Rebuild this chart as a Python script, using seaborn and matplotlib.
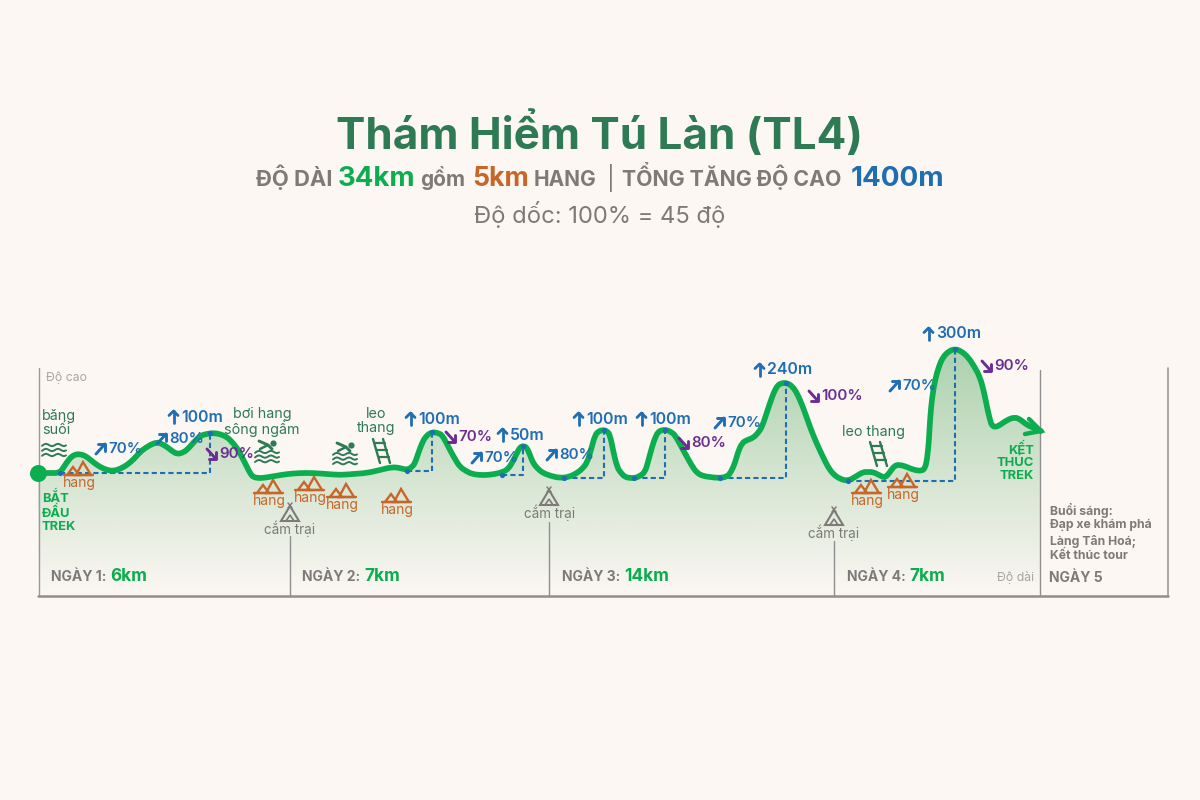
import numpy as np
import pandas as pd
import matplotlib
matplotlib.use('Agg')
import matplotlib.pyplot as plt
import seaborn as sns
from matplotlib.patches import Polygon, PathPatch
from matplotlib.path import Path

# route (picture px, y grows downward)
route_x = [38, 50, 60, 65, 70, 74, 78, 83, 87, 93, 100, 107, 113, 120, 127, 134, 140, 148, 157, 162, 167, 172, 177, 182, 187,
           193, 200, 206, 213, 220, 227, 232, 237, 242, 247, 250, 253, 258, 263, 275, 287, 300, 313, 327, 340, 353, 367, 380,
           392, 400, 407, 412, 415, 418, 422, 426, 432, 438, 442, 446, 450, 455, 460, 466, 472, 480, 487, 495, 503, 508, 512,
           516, 520, 524, 527, 530, 533, 538, 543, 551, 560, 569, 577, 582, 587, 591, 595, 599, 603, 607, 610, 613, 617, 621,
           625, 630, 635, 640, 645, 648, 652, 655, 658, 662, 667, 671, 675, 681, 687, 692, 697, 703, 710, 718, 727, 731, 735,
           738, 742, 747, 753, 758, 762, 767, 772, 775, 778, 782, 787, 792, 797, 803, 810, 816, 823, 828, 833, 840, 848, 855,
           863, 868, 873, 879, 885, 890, 895, 901, 907, 914, 922, 925, 927, 929, 930, 932, 935, 939, 943, 949, 955, 961, 968,
           974, 980, 984, 987, 990, 992, 996, 1000, 1007, 1015, 1021, 1027, 1034, 1041]
route_y = [473, 473, 473, 465, 458, 455, 454, 455, 457, 462, 467, 470, 471, 469, 465, 459, 452, 446, 442, 444, 447, 451, 454,
           453, 450, 443, 436, 434, 433, 434, 437, 442, 448, 457, 467, 473, 477, 478, 478, 476, 474, 473, 473, 474, 475, 474,
           473, 470, 467, 468, 470, 467, 463, 454, 443, 436, 432, 433, 435, 442, 450, 459, 467, 471, 474, 475, 475, 474, 472,
           469, 463, 455, 447, 446, 448, 455, 463, 469, 473, 476, 478, 477, 473, 469, 463, 450, 435, 431, 430, 431, 435, 450,
           467, 473, 477, 478, 478, 476, 472, 462, 447, 438, 432, 430, 430, 432, 435, 446, 457, 466, 473, 476, 477, 478, 477,
           472, 463, 452, 443, 440, 438, 433, 427, 412, 397, 390, 385, 383, 383, 386, 393, 407, 427, 442, 457, 467, 474, 479,
           481, 477, 472, 472, 472, 475, 478, 472, 465, 465, 467, 470, 471, 468, 460, 440, 420, 398, 380, 366, 357, 351, 349,
           351, 357, 366, 377, 392, 407, 420, 426, 427, 425, 420, 417, 420, 425, 428, 431]

# dashed climb guides: start of climb, summit
climb_start_x = [60, 407, 502, 564, 634, 720, 848]
climb_base_y = [473, 471, 475, 478, 478, 478, 481]
climb_top_x = [210, 432, 523, 604, 665, 786, 955]
climb_top_y = [433, 432, 446, 430, 430, 383, 349]

# climb labels
climb_labels = ['100m', '100m', '50m', '100m', '100m', '240m', '300m']
climb_label_x = [168, 405, 497, 573, 636, 754, 923]
climb_label_y = [417, 419, 435, 419, 419, 370, 334]
# slope labels
up_labels = ['70%', '80%', '70%', '80%', '70%', '70%']
up_x = [95, 156, 471, 546, 714, 889]
up_y = [449, 439, 458, 455, 423, 386]
down_labels = ['90%', '70%', '80%', '100%', '90%']
down_x = [206, 445, 678, 808, 981]
down_y = [454, 437, 443, 396, 366]

# features along the route
cave_x = [79, 269, 310, 342, 397, 867, 903]
cave_y = [475, 493, 490, 497, 502, 493, 487]
camp_x = [290, 549, 834]
camp_y = [521, 505, 525]
day_lines = [290, 549, 834, 1040]
day_lines_top = [536, 522, 541, 370]
day_names = ['NGÀY 1:', 'NGÀY 2:', 'NGÀY 3:', 'NGÀY 4:']
day_km = ['6km', '7km', '14km', '7km']
day_label_x = [51, 302, 562, 847]

GREEN = '#0bad4e'
DARK_GREEN = '#2e7a55'
BLUE = '#1f6db3'
PURPLE = '#6b2d92'
ORANGE = '#c8662a'
GRAY = '#7d7a78'
LIGHT_GRAY = '#a8a5a2'
BG = '#fcf7f3'

sns.set_theme(style='white')
plt.rcParams['font.family'] = ['Inter', 'Noto Sans', 'DejaVu Sans']

fig = plt.figure(figsize=(12, 8), dpi=100, facecolor=BG)
ax = fig.add_axes([0, 0, 1, 1])
ax.set_xlim(0, 1200)
ax.set_ylim(800, 0)
ax.axis('off')


def draw_cave(x, y):
    ax.plot([x - 15, x + 14], [y, y], color=ORANGE, lw=1.7, zorder=4)
    ax.add_patch(Polygon([[x - 12, y], [x - 6, y - 8], [x, y]], fill=False, ec=ORANGE, lw=1.7, zorder=4))
    ax.add_patch(Polygon([[x - 3, y], [x + 4, y - 13], [x + 12, y]], fill=False, ec=ORANGE, lw=1.7, zorder=4))
    ax.text(x, y + 8, 'hang', color=ORANGE, fontsize=10, ha='center', va='center', zorder=5)


def draw_camp(x, y):
    ax.add_patch(Polygon([[x - 9, y], [x, y - 15], [x + 9, y]], fill=False, ec=GRAY, lw=1.5, zorder=4))
    ax.add_patch(Polygon([[x - 4, y], [x, y - 6], [x + 4, y]], fill=False, ec=GRAY, lw=1.2, zorder=4))
    ax.plot([x - 2, x + 2], [y - 18, y - 13], color=GRAY, lw=1.1)
    ax.plot([x + 2, x - 2], [y - 18, y - 13], color=GRAY, lw=1.1)
    ax.text(x, y + 8, 'cắm trại', color=GRAY, fontsize=9.7, ha='center', va='center', zorder=5)


wave_dx = np.array([-12, -10, -8, -6, -4, -2, 0, 2, 4, 6, 8, 10, 12])
wave_dy = np.array([0.8, -0.6, -1.2, -0.6, 0.6, 1.2, 0.6, -0.6, -1.2, -0.6, 0.6, 1.2, 0.4])


def draw_waves(x, y, rows=3, gap=4.5):
    for i in range(rows):
        ax.plot(x + wave_dx, y + i * gap + wave_dy, color=DARK_GREEN, lw=1.4, zorder=4)


def draw_swimmer(x, y):
    draw_waves(x, y + 1, rows=3, gap=4.6)
    ax.plot([x - 8, x + 1, x + 5], [y - 10, y - 6, y - 2], color=DARK_GREEN, lw=2.1, zorder=4)
    ax.plot([x + 1, x - 7], [y - 6, y - 2], color=DARK_GREEN, lw=1.8, zorder=4)
    ax.scatter([x + 5.5], [y - 8.5], s=20, color=DARK_GREEN, zorder=4, linewidths=0)


def draw_ladder(x, y):
    ax.plot([x - 8, x - 1], [y - 12, y + 12], color=DARK_GREEN, lw=1.7, zorder=4)
    ax.plot([x + 2, x + 9], [y - 12, y + 12], color=DARK_GREEN, lw=1.7, zorder=4)
    for k in [-8, -1, 6]:
        ax.plot([x - 7 + (k + 12) * 0.29, x + 3 + (k + 12) * 0.29], [y + k, y + k], color=DARK_GREEN, lw=1.6, zorder=4)


def slope_arrow(kind, x, y, color):
    # small bold arrow, x is its left edge and y the label centre
    if kind == 'up':
        ax.plot([x + 5.5, x + 5.5], [y - 6, y + 6], color=color, lw=2.0, zorder=7)
        ax.plot([x + 1, x + 5.5, x + 10], [y - 1.5, y - 6, y - 1.5], color=color, lw=2.0, zorder=7)
    elif kind == 'rise':
        ax.plot([x + 1, x + 10], [y + 5, y - 5], color=color, lw=2.1, zorder=7)
        ax.plot([x + 3, x + 10, x + 10], [y - 5, y - 5, y + 2], color=color, lw=2.1, zorder=7)
    else:
        ax.plot([x + 1, x + 10], [y - 5, y + 5], color=color, lw=2.1, zorder=7)
        ax.plot([x + 3, x + 10, x + 10], [y + 5, y + 5, y - 2], color=color, lw=2.1, zorder=7)


# gradient fill under the route
grad = np.zeros((256, 1, 4))
grad[:, 0, 0] = 0x5f / 255
grad[:, 0, 1] = 0xae / 255
grad[:, 0, 2] = 0x6c / 255
grad[:, 0, 3] = np.linspace(0.52, 0.0, 256)
img = ax.imshow(grad, extent=[38, 1042, 596, 345], aspect='auto', zorder=1, interpolation='bilinear')
ax.set_xlim(0, 1200)
ax.set_ylim(800, 0)
clip = Polygon(list(zip(route_x, route_y)) + [(1041, 596), (38, 596)], closed=True, transform=ax.transData, fc='none', ec='none')
ax.add_patch(clip)
img.set_clip_path(clip)

# frame and day dividers
ax.plot([38.5, 38.5], [368, 596], color='#9a9a9a', lw=1.0, zorder=2)
ax.plot([1167.5, 1167.5], [368, 596], color='#9a9a9a', lw=1.2, zorder=2)
ax.plot([38, 1168], [596, 596], color='#8f8f8f', lw=1.8, zorder=2)
for dx, top in zip(day_lines, day_lines_top):
    ax.plot([dx, dx], [top, 596], color='#8f8f8f', lw=1.0, zorder=2)

# dashed climb guides
for sx, by, tx, ty in zip(climb_start_x, climb_base_y, climb_top_x, climb_top_y):
    ax.plot([sx, tx, tx], [by, by, ty], color=BLUE, lw=1.5, ls=(0, (2.5, 1.5)), zorder=3)

# the route itself
route = pd.DataFrame({'x': route_x, 'y': route_y})
sns.lineplot(data=route, x='x', y='y', sort=False, estimator=None, color=GREEN, lw=2.5, ax=ax, zorder=5)
ax.set_xlabel('')
ax.set_ylabel('')

# round off the corners between the read points
pts = np.column_stack([route_x, route_y]).astype(float)
mids = (pts[:-1] + pts[1:]) / 2
verts = [pts[0], mids[0]]
codes = [Path.MOVETO, Path.LINETO]
for i in range(1, len(pts) - 1):
    verts += [pts[i], mids[i]]
    codes += [Path.CURVE3, Path.CURVE3]
verts.append(pts[-1])
codes.append(Path.LINETO)
ax.add_patch(PathPatch(Path(verts, codes), fill=False, ec=GREEN, lw=4.1, capstyle='round', joinstyle='round', zorder=5))

ax.scatter([route_x[0]], [route_y[0]], s=150, color=GREEN, zorder=6, linewidths=0)
ax.plot([1029, 1041, 1025], [419, 431, 434], color=GREEN, lw=3.2, zorder=6, solid_joinstyle='miter')
ax.scatter(climb_start_x + climb_top_x, climb_base_y + climb_top_y, s=14, color=BLUE, zorder=6, linewidths=0)

# climb and slope labels
for s, x, y in zip(climb_labels, climb_label_x, climb_label_y):
    slope_arrow('up', x, y, BLUE)
    ax.text(x + 13, y, s, color=BLUE, fontsize=11.4, fontweight='semibold', ha='left', va='center', zorder=7)
for s, x, y in zip(up_labels, up_x, up_y):
    slope_arrow('rise', x, y, BLUE)
    ax.text(x + 13, y, s, color=BLUE, fontsize=10.9, fontweight='semibold', ha='left', va='center', zorder=7)
for s, x, y in zip(down_labels, down_x, down_y):
    slope_arrow('fall', x, y, PURPLE)
    ax.text(x + 13, y, s, color=PURPLE, fontsize=10.9, fontweight='semibold', ha='left', va='center', zorder=7)

for x, y in zip(cave_x, cave_y):
    draw_cave(x, y)
for x, y in zip(camp_x, camp_y):
    draw_camp(x, y)

# route notes
ax.text(42, 423, 'băng\nsuối', color=DARK_GREEN, fontsize=10.3, ha='left', va='center', linespacing=0.95, zorder=7)
draw_waves(54, 445, rows=3, gap=5)
ax.text(262, 422, 'bơi hang\nsông ngầm', color=DARK_GREEN, fontsize=10.3, ha='center', va='center', linespacing=0.95, zorder=7)
draw_swimmer(267, 451)
draw_swimmer(345, 453)
ax.text(376, 421, 'leo\nthang', color=DARK_GREEN, fontsize=10.3, ha='center', va='center', linespacing=0.95, zorder=7)
draw_ladder(381, 451)
ax.text(873, 432, 'leo thang', color=DARK_GREEN, fontsize=10.3, ha='center', va='center', zorder=7)
draw_ladder(878, 454)

ax.text(46, 378, 'Độ cao', color=LIGHT_GRAY, fontsize=8.8, ha='left', va='center')
ax.text(1034, 578, 'Độ dài', color=LIGHT_GRAY, fontsize=8.8, ha='right', va='center')
ax.text(42, 512, 'BẮT\nĐẦU\nTREK', color=GREEN, fontsize=9.3, fontweight='bold', ha='left', va='center', linespacing=1.05, zorder=7)
ax.text(1034, 462, 'KẾT\nTHÚC\nTREK', color=GREEN, fontsize=9.3, fontweight='bold', ha='right', va='center', linespacing=1.05, ma='right', zorder=7)

for name, km, x in zip(day_names, day_km, day_label_x):
    t = ax.text(x, 581, name, color=GRAY, fontsize=10, fontweight='bold', ha='left', va='baseline', zorder=7)
    w = t.get_window_extent(fig.canvas.get_renderer()).width
    ax.text(x + w + 4, 581, km, color=GREEN, fontsize=12.4, fontweight='bold', ha='left', va='baseline', zorder=7)
ax.text(1049, 582, 'NGÀY 5', color=GRAY, fontsize=10, fontweight='bold', ha='left', va='baseline')
for s, y in zip(['Buổi sáng:', 'Đạp xe khám phá', 'Làng Tân Hoá;', 'Kết thúc tour'], [510, 525, 541, 556]):
    ax.text(1050, y, s, color=GRAY, fontsize=8.8, fontweight='bold', ha='left', va='center')

# heading
ax.text(600, 135, 'Thám Hiểm Tú Làn (TL4)', color=DARK_GREEN, fontsize=31.7, fontweight='bold', ha='center', va='center')
ax.text(256, 186, 'ĐỘ DÀI', color=GRAY, fontsize=15.8, fontweight='bold')
ax.text(338, 186, '34km', color=GREEN, fontsize=19.8, fontweight='bold')
ax.text(420, 186, 'gồm', color=GRAY, fontsize=15, fontweight='bold')
ax.text(472, 186, '5km', color=ORANGE, fontsize=19.2, fontweight='bold')
ax.text(534, 186, 'HANG', color=GRAY, fontsize=15, fontweight='bold')
ax.text(607, 186, '|', color=GRAY, fontsize=17)
ax.text(622, 186, 'TỔNG TĂNG ĐỘ CAO', color=GRAY, fontsize=15.3, fontweight='bold')
ax.text(851, 186, '1400m', color=BLUE, fontsize=20, fontweight='bold')
ax.text(600, 215, 'Độ dốc: 100% = 45 độ', color=GRAY, fontsize=17.1, ha='center', va='center')

fig.savefig('out.png', dpi=100, facecolor=BG)
